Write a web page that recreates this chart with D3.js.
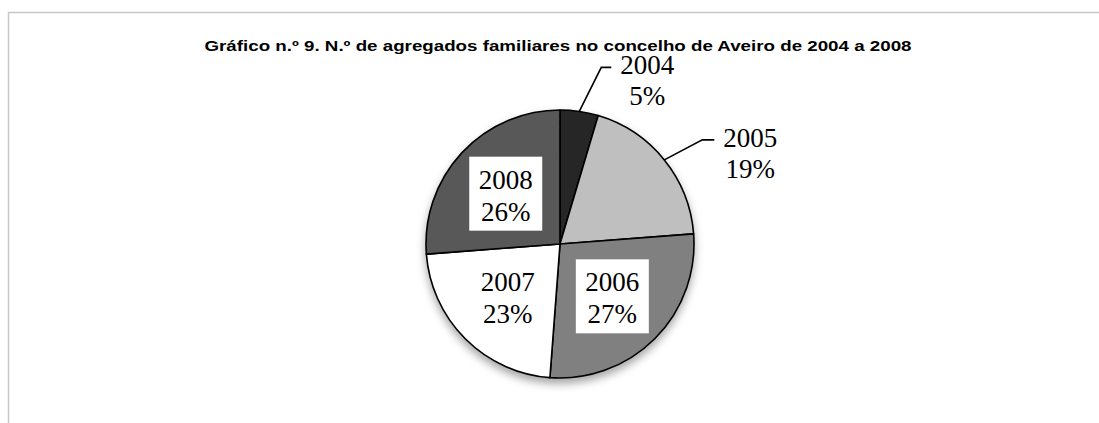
<!DOCTYPE html>
<html>
<head>
<meta charset="utf-8">
<script src="https://cdn.jsdelivr.net/npm/d3@7"></script>
<style>
  body { margin: 0; background: #fff; }
  svg { display: block; }
</style>
</head>
<body>
<div id="chart"></div>
<script>
// data
const years = ["2004", "2005", "2006", "2007", "2008"];
const shares = [4.6, 19.2, 27.4, 22.6, 26.2];
const sliceColors = ["#262626", "#bfbfbf", "#808080", "#ffffff", "#595959"];
const title = "Gráfico n.º 9. N.º de agregados familiares no concelho de Aveiro de 2004 a 2008";

// which labels sit outside with a leader line (elbow offsets from the arc edge)
const outsideLabels = {
  "2004": { dx: 22, dy: -44, run: 10 },
  "2005": { dx: 38, dy: -20, run: 12 }
};

const width = 1099, height = 423;
const cx = 560, cy = 244, radius = 134;

function drawChart(container) {
  const svg = d3.select(container).append("svg")
    .attr("width", width)
    .attr("height", height);

  const defs = svg.append("defs");
  const shadow = defs.append("filter")
    .attr("id", "shadow")
    .attr("x", "-20%").attr("y", "-20%")
    .attr("width", "140%").attr("height", "150%");
  shadow.append("feDropShadow")
    .attr("dx", 0).attr("dy", 5)
    .attr("stdDeviation", 4)
    .attr("flood-color", "#000")
    .attr("flood-opacity", 0.35);

  // outer frame (goes off the right and bottom edges)
  svg.append("rect")
    .attr("x", 8.5).attr("y", 12.5)
    .attr("width", width + 20).attr("height", height + 20)
    .attr("fill", "none")
    .attr("stroke", "#c6c6c6")
    .attr("stroke-width", 1.5);

  svg.append("text")
    .attr("x", 558)
    .attr("y", 51)
    .attr("text-anchor", "middle")
    .attr("font-family", "'Liberation Sans', Arial, sans-serif")
    .attr("font-weight", "bold")
    .attr("font-size", 15)
    .attr("textLength", 707)
    .attr("lengthAdjust", "spacingAndGlyphs")
    .text(title);

  const data = years.map((y, i) => ({ year: y, value: shares[i], color: sliceColors[i] }));
  const total = d3.sum(shares);

  const pie = d3.pie().value(d => d.value).sort(null);
  const arcs = pie(data);

  const arc = d3.arc().innerRadius(0).outerRadius(radius);
  const edgeArc = d3.arc().innerRadius(radius).outerRadius(radius);
  const labelArc = d3.arc().innerRadius(74).outerRadius(74);

  const g = svg.append("g").attr("transform", `translate(${cx},${cy})`);

  g.append("g")
    .attr("filter", "url(#shadow)")
    .selectAll("path")
    .data(arcs)
    .join("path")
    .attr("d", arc)
    .attr("fill", d => d.data.color)
    .attr("stroke", "#000")
    .attr("stroke-width", 1.6)
    .attr("stroke-linejoin", "round");

  const pct = d => Math.round(d.data.value / total * 100) + "%";
  const fontFam = "'Liberation Serif', 'Times New Roman', serif";

  // inside labels with white boxes
  const inside = arcs.filter(d => !outsideLabels[d.data.year]);
  const inG = g.append("g").selectAll("g")
    .data(inside)
    .join("g")
    .attr("transform", d => `translate(${labelArc.centroid(d)})`);
  inG.append("rect")
    .attr("x", -36.5).attr("y", -37)
    .attr("width", 73).attr("height", 74)
    .attr("fill", "#fff");
  inG.append("text")
    .attr("text-anchor", "middle")
    .attr("font-family", fontFam)
    .attr("font-size", 27)
    .attr("fill", "#000")
    .selectAll("tspan")
    .data(d => [[d.data.year, -5], [pct(d), 27]])
    .join("tspan")
    .attr("x", 0)
    .attr("y", t => t[1])
    .text(t => t[0]);

  // outside labels with leader lines
  const outside = arcs.filter(d => outsideLabels[d.data.year]);
  const outG = g.append("g").selectAll("g")
    .data(outside)
    .join("g");
  outG.append("polyline")
    .attr("fill", "none")
    .attr("stroke", "#000")
    .attr("stroke-width", 1.6)
    .attr("points", d => {
      const o = outsideLabels[d.data.year];
      const p = edgeArc.centroid(d);
      const e = [p[0] + o.dx, p[1] + o.dy];
      return [p, e, [e[0] + o.run, e[1]]].map(q => q.join(",")).join(" ");
    });
  outG.append("text")
    .attr("text-anchor", "middle")
    .attr("font-family", fontFam)
    .attr("font-size", 27)
    .attr("fill", "#000")
    .each(function(d) {
      const o = outsideLabels[d.data.year];
      const p = edgeArc.centroid(d);
      const x = p[0] + o.dx + o.run + 36;
      const y = p[1] + o.dy;
      d3.select(this).selectAll("tspan")
        .data([[d.data.year, y + 7], [pct(d), y + 38]])
        .join("tspan")
        .attr("x", x)
        .attr("y", t => t[1])
        .text(t => t[0]);
    });

  return svg.node();
}

drawChart("#chart");
</script>
</body>
</html>
